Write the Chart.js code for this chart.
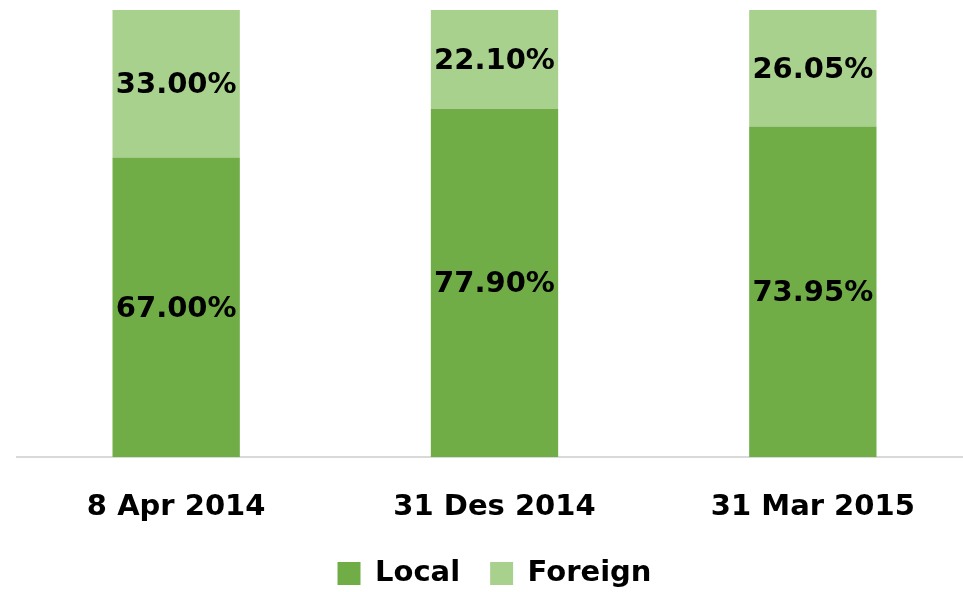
<!DOCTYPE html>
<html>
<head>
<meta charset="utf-8">
<script src="https://cdn.jsdelivr.net/npm/chart.js@4"></script>
<style>
  html, body { margin: 0; padding: 0; background: #fff; overflow: hidden; }
  #wrap { width: 972px; height: 592px; position: relative; }
</style>
</head>
<body>
<div id="wrap"><canvas id="barChart"></canvas></div>
<script>
// Dados do gráfico
const categories = ['8 Apr 2014', '31 Des 2014', '31 Mar 2015'];
const localValues = [67.00, 77.90, 73.95];
const foreignValues = [33.00, 22.10, 26.05];

const fontBold = { family: 'DejaVu Sans', weight: 'bold', size: 29 };

// Rótulos no meio de cada segmento
const segmentLabels = {
    id: 'segmentLabels',
    afterDatasetsDraw(chart) {
        const ctx = chart.ctx;
        ctx.save();
        ctx.font = 'bold 29px "DejaVu Sans"';
        ctx.fillStyle = '#000';
        ctx.textAlign = 'center';
        ctx.textBaseline = 'middle';
        chart.data.datasets.forEach((ds, i) => {
            chart.getDatasetMeta(i).data.forEach((bar, j) => {
                const p = bar.getProps(['x', 'y', 'base'], true);
                ctx.fillText(ds.data[j].toFixed(2) + '%', p.x, (p.y + p.base) / 2 + 2);
            });
        });
        ctx.restore();
    }
};

const ctxBar = document.getElementById('barChart').getContext('2d');
const barChart = new Chart(ctxBar, {
    type: 'bar',
    data: {
        labels: categories,
        datasets: [{
            label: 'Local',
            data: localValues,
            backgroundColor: '#70AD47',
            barPercentage: 0.4,
            categoryPercentage: 1
        }, {
            label: 'Foreign',
            data: foreignValues,
            backgroundColor: '#A9D18E',
            barPercentage: 0.4,
            categoryPercentage: 1
        }]
    },
    options: {
        responsive: true,
        maintainAspectRatio: false,
        animation: false,
        layout: { padding: { left: 17, top: 10, right: 0, bottom: -6 } },
        scales: {
            x: {
                stacked: true,
                grid: { display: false, drawTicks: false },
                border: { display: true, color: '#d9d9d9', width: 2 },
                ticks: { color: '#000', font: fontBold, padding: 33 },
                afterFit: (scale) => { scale.height = 72; }
            },
            y: {
                stacked: true,
                display: false,
                min: 0,
                max: 100
            }
        },
        plugins: {
            legend: {
                display: true,
                position: 'bottom',
                labels: {
                    color: '#000',
                    font: fontBold,
                    boxWidth: 23,
                    boxHeight: 23,
                    padding: 30
                }
            },
            tooltip: { enabled: false }
        }
    },
    plugins: [segmentLabels]
});
</script>
</body>
</html>
